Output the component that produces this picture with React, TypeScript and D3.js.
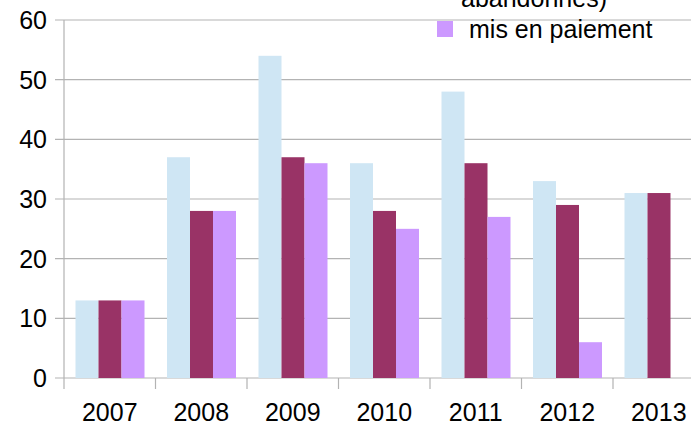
import React, { useEffect, useRef } from 'react';
import * as d3 from 'd3';

const years = ['2007', '2008', '2009', '2010', '2011', '2012', '2013'];
const seriesNames = ['déposés', 'acceptés (y compris abandonnés)', 'mis en paiement'];
const deposes = [13, 37, 54, 36, 48, 33, 31];
const acceptes = [13, 28, 37, 28, 36, 29, 31];
const paiement = [13, 28, 36, 25, 27, 6, 0];
const yTicks = [0, 10, 20, 30, 40, 50, 60];
const colors = ['#cfe6f4', '#993366', '#cc99ff'];

export default function App() {
  const svgRef = useRef<SVGSVGElement>(null);

  useEffect(() => {
    const svg = d3.select(svgRef.current);
    svg.selectAll('*').remove();

    const width = 691;
    const height = 423;
    const font = '"Liberation Sans", Arial, sans-serif';
    const fontSize = 25;
    const gridColor = '#b3b3b3';

    svg.attr('width', width).attr('height', height);
    svg.append('rect').attr('width', width).attr('height', height).attr('fill', '#fff');

    const x = d3.scaleBand().domain(years).range([64, 64 + 7 * 91.5]).padding(0);
    const inner = d3.scaleBand().domain(['0', '1', '2']).range([11.5, 80.5]).padding(0);
    const y = d3.scaleLinear().domain([0, 60]).range([378, 20]);

    // gridlines + y ticks
    svg.append('g')
      .selectAll('line')
      .data(yTicks)
      .enter()
      .append('line')
      .attr('x1', 55)
      .attr('x2', width)
      .attr('y1', (d) => y(d))
      .attr('y2', (d) => y(d))
      .attr('stroke', gridColor)
      .attr('stroke-width', 1.2);

    svg.append('g')
      .selectAll('text')
      .data(yTicks)
      .enter()
      .append('text')
      .attr('x', 47)
      .attr('y', (d) => y(d) + 9)
      .attr('text-anchor', 'end')
      .attr('font-family', font)
      .attr('font-size', fontSize)
      .attr('fill', '#000')
      .text((d) => d);

    // y axis line
    svg.append('line')
      .attr('x1', 64).attr('x2', 64)
      .attr('y1', y(60)).attr('y2', 389)
      .attr('stroke', gridColor).attr('stroke-width', 1.2);

    // x ticks at band boundaries
    svg.append('g')
      .selectAll('line')
      .data(years.slice(1))
      .enter()
      .append('line')
      .attr('x1', (d) => x(d)!)
      .attr('x2', (d) => x(d)!)
      .attr('y1', y(0))
      .attr('y2', 389)
      .attr('stroke', gridColor)
      .attr('stroke-width', 1.2);

    const allSeries = [deposes, acceptes, paiement];
    allSeries.forEach((vals, si) => {
      svg.append('g')
        .selectAll('rect')
        .data(vals.map((v, i) => ({ year: years[i], v })))
        .enter()
        .append('rect')
        .attr('x', (d) => x(d.year)! + inner(String(si))!)
        .attr('width', inner.bandwidth())
        .attr('y', (d) => y(d.v))
        .attr('height', (d) => y(0) - y(d.v))
        .attr('fill', colors[si]);
    });

    // x labels
    svg.append('g')
      .selectAll('text')
      .data(years)
      .enter()
      .append('text')
      .attr('x', (d) => x(d)! + x.bandwidth() / 2)
      .attr('y', 421)
      .attr('text-anchor', 'middle')
      .attr('font-family', font)
      .attr('font-size', fontSize)
      .attr('fill', '#000')
      .text((d) => d);

    // legend (partly cut off at the top)
    svg.append('text')
      .attr('x', 461)
      .attr('y', 7)
      .attr('font-family', font)
      .attr('font-size', fontSize)
      .attr('fill', '#000')
      .text('abandonnés)');

    svg.append('rect')
      .attr('x', 437).attr('y', 21)
      .attr('width', 16).attr('height', 16)
      .attr('fill', colors[2]);
    svg.append('text')
      .attr('x', 469)
      .attr('y', 38)
      .attr('font-family', font)
      .attr('font-size', fontSize)
      .attr('fill', '#000')
      .text(seriesNames[2]);
  }, []);

  return (
    <div style={{ position: 'absolute', left: 0, top: 0 }}>
      <svg ref={svgRef} style={{ display: 'block' }}></svg>
    </div>
  );
}
